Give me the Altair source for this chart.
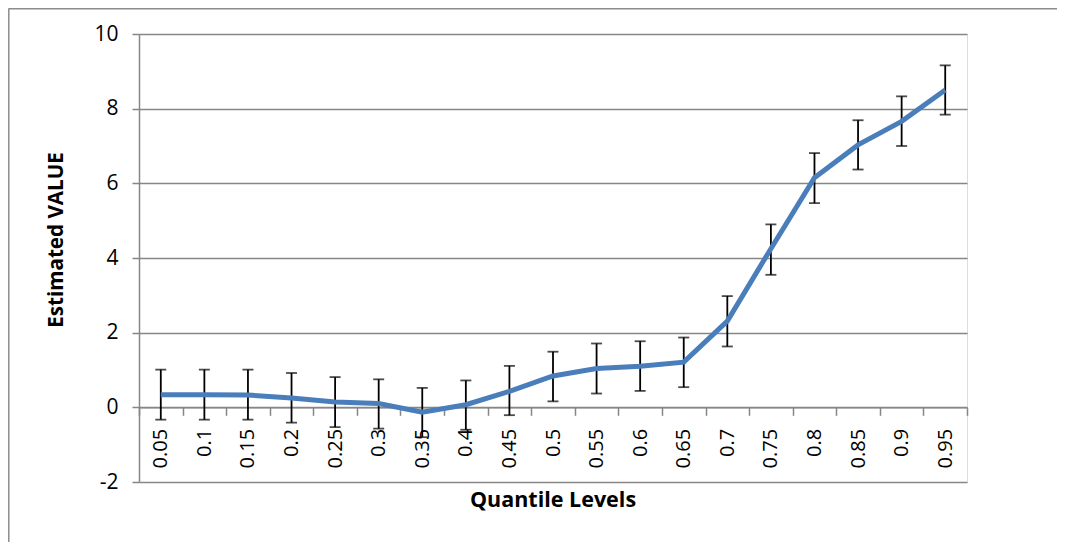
import altair as alt
import pandas as pd

quantiles = ["0.05", "0.1", "0.15", "0.2", "0.25", "0.3", "0.35", "0.4", "0.45", "0.5",
             "0.55", "0.6", "0.65", "0.7", "0.75", "0.8", "0.85", "0.9", "0.95"]
estimates = [0.34, 0.34, 0.33, 0.25, 0.14, 0.10, -0.13, 0.07, 0.43, 0.84,
             1.04, 1.10, 1.21, 2.31, 4.25, 6.15, 7.03, 7.66, 8.50]
upper = [1.01, 1.01, 1.01, 0.92, 0.81, 0.75, 0.52, 0.72, 1.11, 1.49,
         1.71, 1.77, 1.87, 2.98, 4.90, 6.81, 7.69, 8.33, 9.16]
lower = [-0.33, -0.33, -0.33, -0.41, -0.53, -0.57, -0.80, -0.60, -0.21, 0.16,
         0.37, 0.44, 0.54, 1.63, 3.55, 5.47, 6.37, 7.00, 7.84]

df = pd.DataFrame({"q": quantiles, "v": estimates, "lo": lower, "hi": upper})

W, H = 828, 448
FONT = "Open Sans"

x = alt.X("q:N", sort=quantiles, scale=alt.Scale(paddingInner=0, paddingOuter=0),
          axis=alt.Axis(title=None, labelAngle=-90, labelAlign="right", labelBaseline="middle",
                        labelPadding=13, labelFontSize=20, labelFont=FONT, labelColor="black",
                        domainColor="#868686", domainWidth=1.5, tickColor="#868686",
                        tickBand="extent", tickSize=8, tickWidth=1.5, offset=-74.67, grid=False))
y = alt.Y("v:Q", scale=alt.Scale(domain=[-2, 10], nice=False, zero=False),
          axis=alt.Axis(title=None, values=[-2, 0, 2, 4, 6, 8, 10], labelFontSize=21,
                        labelFont=FONT, labelColor="black", labelPadding=14,
                        labelExpr="replace(datum.label, '\u2212', '-')",
                        domainColor="#868686", domainWidth=1.5, tickColor="#868686",
                        tickSize=7, tickWidth=1.5, gridColor="#868686", gridWidth=1.5))

base = alt.Chart(df)

line = base.mark_line(color="#4a7ebb", strokeWidth=5, strokeJoin="miter").encode(x=x, y=y)
rule = base.mark_rule(color="black", strokeWidth=1.8).encode(x="q:N", y="lo:Q", y2="hi:Q")
cap_hi = base.mark_tick(color="black", size=11, thickness=1.8).encode(x="q:N", y="hi:Q")
cap_lo = base.mark_tick(color="black", size=11, thickness=1.8).encode(x="q:N", y="lo:Q")

title_df = pd.DataFrame({"t": ["Quantile Levels"]})
xtitle = alt.Chart(title_df).mark_text(fontSize=21.5, fontWeight="bold", font=FONT,
                                       color="black").encode(
    text="t:N", x=alt.value(W / 2), y=alt.value(467))
ytitle_df = pd.DataFrame({"t": ["Estimated VALUE"]})
ytitle = alt.Chart(ytitle_df).mark_text(fontSize=20.6, fontWeight="bold", font=FONT,
                                        color="black", angle=270).encode(
    text="t:N", x=alt.value(-82), y=alt.value(206))

border_top = alt.Chart(title_df).mark_rule(color="#8c8c8c", strokeWidth=1.5).encode(
    x=alt.value(-130.5), x2=alt.value(940), y=alt.value(-25.2))
border_left = alt.Chart(title_df).mark_rule(color="#8c8c8c", strokeWidth=1.5).encode(
    x=alt.value(-130.2), y=alt.value(-25.5), y2=alt.value(530))

chart = alt.layer(border_top, border_left, rule, cap_hi, cap_lo, line, xtitle, ytitle).properties(
    width=W, height=H,
    padding={"left": 131, "top": 26, "right": 90, "bottom": 60},
    autosize=alt.AutoSizeParams(type="none"),
).configure_view(stroke=None).configure(background="white")

chart.save("out.html", embed_options={"renderer": "svg", "actions": False})
